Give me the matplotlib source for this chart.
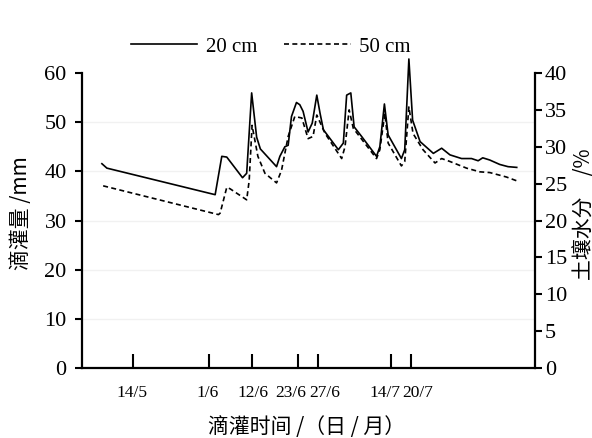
import numpy as np
import matplotlib.pyplot as plt
from matplotlib.transforms import ScaledTranslation

plt.rcParams['font.family'] = ['Liberation Serif', 'Noto Sans CJK SC']

# day of year and soil moisture (%)
day_20 = [126.5, 127.7, 153.8, 155.4, 156.6, 160.4, 161.4, 162.6, 163.8, 164.7,
          168.6, 169.4, 170.6, 171.4, 172.2, 173.4, 174.2, 175.0, 176.2, 177.2,
          178.3, 179.1, 179.9, 183.5, 184.7, 185.5, 186.5, 187.3, 189.1, 192.7,
          193.5, 194.6, 195.5, 198.7, 199.5, 200.5, 201.4, 203.2, 206.4, 208.4,
          210.4, 213.2, 215.6, 217.2, 218.3, 220.0, 222.4, 224.4, 226.5]
sm_20 = [27.7, 27.1, 23.5, 28.7, 28.6, 25.8, 26.4, 37.3, 31.3, 29.7,
         27.3, 28.7, 30.0, 30.2, 34.1, 36.0, 35.7, 34.8, 32.0, 33.2,
         37.0, 34.5, 32.3, 29.6, 30.5, 37.0, 37.3, 32.7, 31.4, 28.7,
         30.0, 35.8, 31.6, 28.4, 29.6, 41.9, 33.6, 30.7, 29.1, 29.8,
         28.9, 28.4, 28.4, 28.1, 28.5, 28.2, 27.6, 27.3, 27.2]

day_50 = [126.8, 154.6, 155.0, 156.6, 157.4, 161.4, 162.0, 162.7, 164.1, 165.8,
          168.6, 169.8, 171.4, 173.0, 174.7, 176.2, 177.4, 178.3, 180.3, 184.3,
          185.1, 186.1, 187.1, 192.7, 193.5, 194.7, 195.5, 198.7, 199.5, 200.5,
          201.5, 203.9, 206.8, 208.4, 210.4, 214.4, 217.6, 220.0, 224.0, 226.4]
sm_50 = [24.7, 20.8, 21.0, 24.5, 24.3, 22.8, 25.4, 32.9, 28.7, 26.4,
         25.1, 26.8, 31.4, 34.1, 33.9, 31.1, 31.4, 34.3, 31.8, 28.4,
         30.0, 35.0, 32.5, 28.4, 29.6, 34.5, 30.5, 27.4, 28.0, 35.4,
         31.8, 29.6, 27.8, 28.4, 28.0, 27.1, 26.6, 26.5, 25.9, 25.4]

# irrigation dates (positions as read on the original axis)
irr_days = [134, 152.2, 162.6, 173.7, 178.7, 196.3, 200.9]
irr_labels = ['14/5', '1/6', '12/6', '23/6', '27/6', '14/7', '20/7']
label_shift = [-1, -1, 1, -7, 6, -7, 7]  # px, labels sit a bit off their ticks

fig = plt.figure(figsize=(5.92, 4.38), dpi=100)
ax = fig.add_axes([0.1385, 0.1598, 0.7652, 0.7409])
ax2 = ax.twinx()

ax.set_xlim(121.7, 230.9)
ax.set_ylim(0, 66)
ax2.set_ylim(0, 44)

for v in [10, 20, 30, 40, 50]:
    ax.axhline(v, color='#f1f1f1', lw=1, zorder=0)

ax2.plot(day_20, sm_20, color='black', lw=1.2, label='20 cm')
ax2.plot(day_50, sm_50, color='black', lw=1.2, linestyle=(0, (3, 2)), label='50 cm')

for a in (ax, ax2):
    a.spines['top'].set_visible(False)
    for s in a.spines.values():
        s.set_linewidth(1.6)
ax.spines['left'].set_bounds(0, 60)
ax2.spines['right'].set_bounds(0, 40)
ax.spines['right'].set_visible(False)
ax2.spines['left'].set_visible(False)
ax2.spines['bottom'].set_visible(False)

ax.set_yticks(np.arange(0, 61, 10))
ax2.set_yticks(np.arange(0, 41, 5))
ax.tick_params(axis='y', direction='out', length=5, width=1.5, labelsize=16, pad=6)
ax2.tick_params(axis='y', direction='out', length=5, width=1.5, labelsize=16, pad=2)

ax.set_xticks(irr_days)
ax.set_xticklabels([])
ax.tick_params(axis='x', direction='in', length=10, width=1.5)
for d, lab, dx in zip(irr_days, irr_labels, label_shift):
    off = ScaledTranslation(dx / 100, 0, fig.dpi_scale_trans)
    ax.text(d, -0.077, lab, transform=ax.get_xaxis_transform() + off,
            ha='center', va='center', fontsize=12.5)

cjk = ['Noto Sans CJK SC', 'DejaVu Sans']
ax.set_ylabel('滴灌量 /mm', family=cjk, fontsize=15)
ax.yaxis.set_label_coords(-0.110, 0.477)
ax2.set_ylabel('土壤水分\u3000/%', family=cjk, fontsize=15)
ax2.yaxis.set_label_coords(1.083, 0.474)
ax.set_xlabel('滴灌时间 /（日 / 月）', family=cjk, fontsize=15)
ax.xaxis.set_label_coords(0.496, -0.148)

fig.legend(loc='center', bbox_to_anchor=(0.457, 0.893), ncol=2, frameon=False,
           fontsize=15, handlelength=3.2, handletextpad=0.4, columnspacing=1.3)

fig.savefig('out.png', dpi=100)
